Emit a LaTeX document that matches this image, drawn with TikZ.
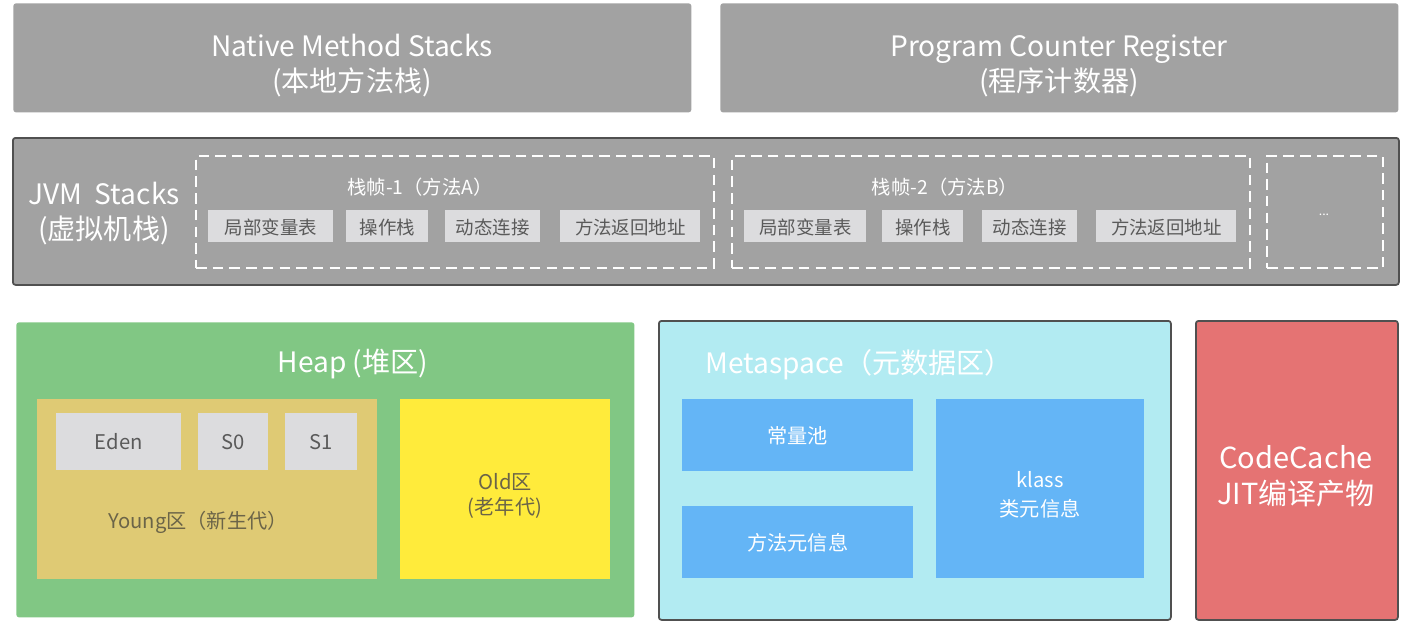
\documentclass[tikz,border=0pt]{standalone}
\usepackage{fontspec}
\setmainfont{Noto Sans CJK SC}
\definecolor{areagray}{HTML}{A2A2A2}
\definecolor{cellgray}{HTML}{DCDCDE}
\definecolor{cellink}{HTML}{5A5A5A}
\definecolor{edgegray}{HTML}{505050}
\definecolor{heapgreen}{HTML}{81C784}
\definecolor{younggold}{HTML}{DFCA74}
\definecolor{oldyellow}{HTML}{FFEB3B}
\definecolor{zoneink}{HTML}{6B6448}
\definecolor{metacyan}{HTML}{B2EBF2}
\definecolor{metablue}{HTML}{64B5F6}
\definecolor{cachered}{HTML}{E57373}

\begin{document}
\begin{tikzpicture}[x=0.02cm,y=-0.02cm,every node/.style={align=center,inner sep=0pt,text depth=0pt},
  sz/.style 2 args={anchor=north west,minimum width=#1*0.02cm,minimum height=#2*0.02cm},
  area/.style={fill=areagray,rounded corners=1.5pt},
  title/.style={text=white,font=\fontsize{16}{20}\selectfont},
  frame/.style={draw=white,line width=1.2pt,dash pattern=on 6pt off 3.5pt},
  cell/.style={fill=cellgray,text=cellink,font=\fontsize{10.5}{12}\selectfont},
  region/.style={draw=edgegray,line width=1pt,rounded corners=1.5pt}]
\useasboundingbox (0,0) rectangle (1414,643);
% top row
\node[area,sz={678}{109}] (native) at (13,3) {};
\node[area,sz={678}{109}] (pcr) at (720,3) {};
\node[title] (nativelbl) at (352,63) {Native Method Stacks\\(本地方法栈)};
\node[title] (pcrlbl) at (1059,63) {Program Counter Register\\(程序计数器)};
% JVM stacks
\node[area,region,sz={1386}{147}] (jvm) at (12,137) {};
\node[title] (jvmlbl) at (104,211) {JVM\ \ Stacks\\(虚拟机栈)};
\node[frame,sz={518}{112}] (frameA) at (195,155) {};
\node[frame,sz={518}{112}] (frameB) at (731,155) {};
\node[frame,sz={116}{112}] (frameC) at (1266,155) {};
\node[text=white,font=\fontsize{11}{12}\selectfont] (titleA) at (420,186) {栈帧-1（方法A）};
\node[text=white,font=\fontsize{11}{12}\selectfont] (titleB) at (945,186) {栈帧-2（方法B）};
\node[text=white,font=\fontsize{7}{8}\selectfont] (more) at (1324,215) {...};
\node[cell,sz={125}{32}] (localA) at (208,210) {局部变量表};
\node[cell,sz={82}{32}] (opA) at (346,210) {操作栈};
\node[cell,sz={95}{32}] (dynA) at (445,210) {动态连接};
\node[cell,sz={140}{32}] (retA) at (560,210) {方法返回地址};
\node[cell,sz={122}{32}] (localB) at (744,210) {局部变量表};
\node[cell,sz={81}{32}] (opB) at (882,210) {操作栈};
\node[cell,sz={95}{32}] (dynB) at (982,210) {动态连接};
\node[cell,sz={140}{32}] (retB) at (1096,210) {方法返回地址};
% heap
\node[fill=heapgreen,rounded corners=1.5pt,sz={618}{295}] (heap) at (16,322) {};
\node[title] (heaplbl) at (353,361) {Heap (堆区)};
\node[fill=younggold,sz={340}{180}] (young) at (37,399) {};
\node[text=zoneink,font=\fontsize{11.5}{14}\selectfont] (younglbl) at (198,520) {Young区（新生代）};
\node[cell,sz={125}{57},font=\fontsize{11.5}{14}\selectfont] (eden) at (56,413) {Eden};
\node[cell,sz={70}{57},font=\fontsize{11.5}{14}\selectfont] (szero) at (198,413) {S0};
\node[cell,sz={72}{57},font=\fontsize{11.5}{14}\selectfont] (sone) at (285,413) {S1};
\node[fill=oldyellow,sz={210}{180}] (old) at (400,399) {};
\node[text=zoneink,font=\fontsize{11.5}{14}\selectfont] (oldlbl) at (505,494) {Old区\\(老年代)};
% metaspace
\node[region,fill=metacyan,sz={512}{299}] (meta) at (658,320) {};
\node[title,anchor=west] (metalbl) at (705,361) {Metaspace（元数据区）};
\node[fill=metablue,text=white,font=\fontsize{11.5}{14}\selectfont,sz={231}{72}] (cpool) at (682,399) {常量池};
\node[fill=metablue,text=white,font=\fontsize{11.5}{14}\selectfont,sz={231}{72}] (minfo) at (682,506) {方法元信息};
\node[fill=metablue,sz={208}{179}] (klass) at (936,399) {};
\node[text=white,font=\fontsize{11.5}{16}\selectfont] (klasslbl) at (1040,494) {klass\\类元信息};
% code cache
\node[region,fill=cachered,sz={202}{299}] (cache) at (1195,320) {};
\node[text=white,font=\fontsize{16.5}{20}\selectfont] (cachelbl) at (1296,475) {CodeCache\\JIT编译产物};
\end{tikzpicture}
\end{document}
